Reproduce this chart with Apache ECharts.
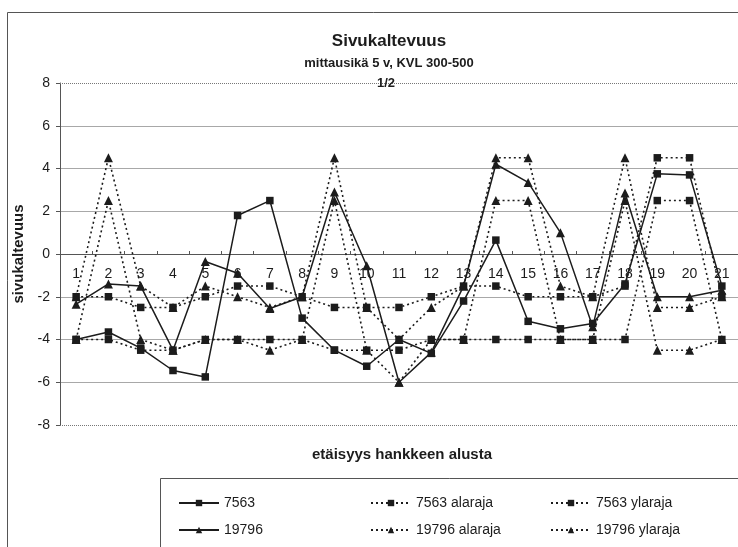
<!DOCTYPE html>
<html>
<head>
<meta charset="utf-8">
<script src="https://cdn.jsdelivr.net/npm/echarts@6/dist/echarts.min.js"></script>
<style>
  html, body { margin: 0; padding: 0; background: #fff; }
  #chart { width: 738px; height: 547px; }
</style>
</head>
<body>
<div id="chart"></div>
<script>
// Measurement points along the project (distance from start)
const categories = ['1','2','3','4','5','6','7','8','9','10','11','12','13','14','15','16','17','18','19','20','21'];

// Cross slope, section 7563, with its lower and upper limits
const s7563       = [-4, -3.65, -4.4, -5.45, -5.75, 1.8, 2.5, -3, -4.5, -5.25, -4, -4.65, -2.2, 0.65, -3.15, -3.5, -3.25, -1.4, 3.75, 3.7, -1.5];
const s7563Lower  = [-4, -4, -4.5, -4.5, -4, -4, -4, -4, -4.5, -4.5, -4.5, -4, -4, -4, -4, -4, -4, -4, 2.5, 2.5, -4];
const s7563Upper  = [-2, -2, -2.5, -2.5, -2, -1.5, -1.5, -2, -2.5, -2.5, -2.5, -2, -1.5, -1.5, -2, -2, -2, -1.5, 4.5, 4.5, -2];

// Cross slope, section 19796, with its lower and upper limits
const s19796      = [-2.35, -1.4, -1.5, -4.5, -0.35, -0.9, -2.55, -2, 2.9, -0.55, -6, -4.6, -1.5, 4.2, 3.35, 1.0, -3.4, 2.85, -2, -2, -1.7];
const s19796Lower = [-4, 2.5, -4, -4.5, -4, -4, -4.5, -4, 2.5, -4.5, -6, -4, -4, 2.5, 2.5, -4, -4, 2.5, -4.5, -4.5, -4];
const s19796Upper = [-2, 4.5, -1.5, -2.5, -1.5, -2, -2.5, -2, 4.5, -2.5, -4, -2.5, -1.5, 4.5, 4.5, -1.5, -2, 4.5, -2.5, -2.5, -2];

const yTicks = { min: -8, max: 8, interval: 2 };

const INK = '#1c1c1c';
const FONT = '"Liberation Sans", Arial, sans-serif';

// plot rectangle
const GRID = { left: 60, right: 0, top: 83, bottom: 122 };
const plotHeight = 547 - GRID.top - GRID.bottom;
// the category axis runs along value 0, labels hang just below it
const zeroOffset = -plotHeight * (0 - yTicks.min) / (yTicks.max - yTicks.min);

function lineSeries(name, data, symbol, dotted) {
  return {
    name: name,
    type: 'line',
    data: data,
    symbol: symbol,
    symbolSize: symbol === 'triangle' ? 9 : 7.5,
    showAllSymbol: true,
    animation: false,
    itemStyle: { color: INK },
    lineStyle: { color: INK, width: dotted ? 1.6 : 1.5, type: dotted ? [2, 3] : 'solid' },
    emphasis: { disabled: true }
  };
}

const series = [
  lineSeries('7563', s7563, 'rect', false),
  lineSeries('7563 alaraja', s7563Lower, 'rect', true),
  lineSeries('7563 ylaraja', s7563Upper, 'rect', true),
  lineSeries('19796', s19796, 'triangle', false),
  lineSeries('19796 alaraja', s19796Lower, 'triangle', true),
  lineSeries('19796 ylaraja', s19796Upper, 'triangle', true)
];

// dotted frame lines at the top and bottom of the value range
series[0].markLine = {
  silent: true,
  symbol: 'none',
  label: { show: false },
  lineStyle: { color: '#777', type: [1, 1], width: 1 },
  data: [{ yAxis: yTicks.max }, { yAxis: yTicks.min }]
};

// legend: two rows of three entries
const legendCols = [178, 370, 550];
const legendRows = [496, 523];
const legends = series.map(function (s, i) {
  return {
    data: [s.name],
    left: legendCols[i % 3],
    top: legendRows[Math.floor(i / 3)],
    padding: 0,
    itemWidth: 40,
    itemHeight: 8,
    itemGap: 4,
    textStyle: { fontFamily: FONT, fontSize: 14, color: INK },
    selectedMode: false
  };
});

const gridLineColors = [];
for (let v = yTicks.min; v <= yTicks.max; v += yTicks.interval) {
  gridLineColors.push(v === yTicks.min || v === yTicks.max ? 'rgba(0,0,0,0)' : '#a8a8a8');
}

const chart = echarts.init(document.getElementById('chart'), null, { renderer: 'canvas' });
chart.setOption({
  backgroundColor: '#ffffff',
  animation: false,
  title: [
    { text: 'Sivukaltevuus', left: 384, top: 28, textAlign: 'center',
      textStyle: { fontFamily: FONT, fontSize: 17, fontWeight: 'bold', color: INK } },
    { text: 'mittausikä 5 v, KVL 300-500', left: 384, top: 52, textAlign: 'center',
      textStyle: { fontFamily: FONT, fontSize: 13, fontWeight: 'bold', color: INK } },
    { text: '1/2', left: 381, top: 72, textAlign: 'center',
      textStyle: { fontFamily: FONT, fontSize: 13, fontWeight: 'bold', color: INK } },
    { text: 'etäisyys hankkeen alusta', left: 397, top: 442, textAlign: 'center',
      textStyle: { fontFamily: FONT, fontSize: 15, fontWeight: 'bold', color: INK } }
  ],
  legend: legends,
  grid: { left: GRID.left, right: GRID.right, top: GRID.top, bottom: GRID.bottom, containLabel: false },
  xAxis: {
    type: 'category',
    data: categories,
    boundaryGap: true,
    position: 'bottom',
    offset: zeroOffset,
    axisLine: { onZero: false, lineStyle: { color: '#555', width: 1 } },
    axisTick: { show: true, inside: true, length: 3, lineStyle: { color: '#555' } },
    axisLabel: { fontFamily: FONT, fontSize: 14, color: INK, margin: 13 },
    splitLine: { show: false }
  },
  yAxis: {
    type: 'value',
    min: yTicks.min,
    max: yTicks.max,
    interval: yTicks.interval,
    name: 'sivukaltevuus',
    nameLocation: 'middle',
    nameRotate: 90,
    nameGap: 27,
    nameTextStyle: { fontFamily: FONT, fontSize: 15, fontWeight: 'bold', color: INK },
    axisLine: { show: true, lineStyle: { color: '#555', width: 1 } },
    axisTick: { show: true, length: 4, lineStyle: { color: '#555' } },
    axisLabel: { fontFamily: FONT, fontSize: 14, color: INK, margin: 10 },
    splitLine: { show: true, lineStyle: { color: gridLineColors, width: 1 } }
  },
  graphic: [
    { type: 'rect', shape: { x: 7.5, y: 12.5, width: 800, height: 600 },
      style: { fill: 'none', stroke: '#555', lineWidth: 1 }, silent: true, z: -1 },
    { type: 'rect', shape: { x: 160.5, y: 478.5, width: 700, height: 100 },
      style: { fill: 'none', stroke: '#555', lineWidth: 1 }, silent: true, z: -1 }
  ],
  series: series
});
</script>
</body>
</html>
